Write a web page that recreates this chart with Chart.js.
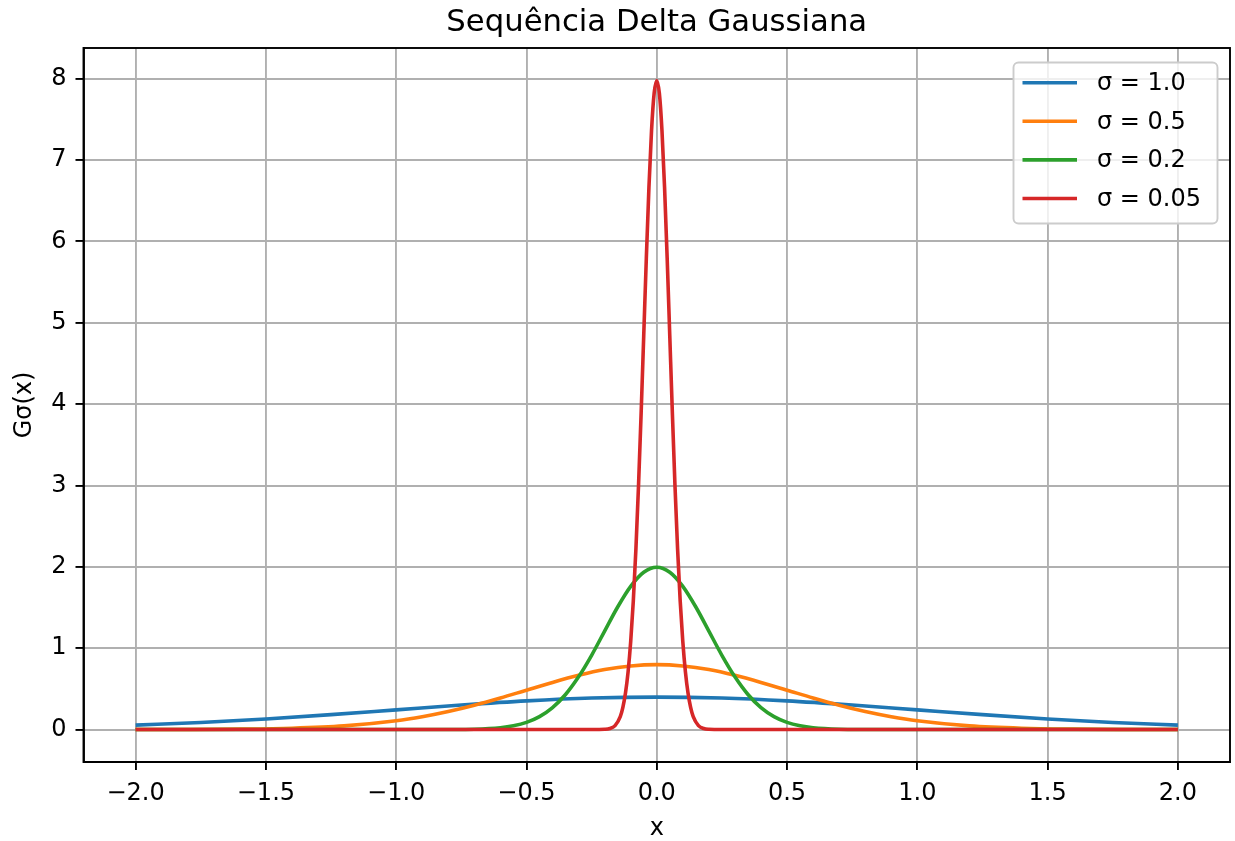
<!DOCTYPE html>
<html>
<head>
<meta charset="utf-8">
<script src="https://cdn.jsdelivr.net/npm/chart.js@4.4.1/dist/chart.umd.min.js"></script>
<style>
  html, body { margin: 0; padding: 0; background: #fff; }
  #c { display: block; }
</style>
</head>
<body>
<canvas id="c" width="1235" height="841"></canvas>
<script>
// ---- data ----
const seriesLabels = ['σ = 1.0', 'σ = 0.5', 'σ = 0.2', 'σ = 0.05'];
const seriesColors = ['#1f77b4', '#ff7f0e', '#2ca02c', '#d62728'];

const xSigma1 = [-2.0,-1.75,-1.5,-1.25,-1.0,-0.75,-0.5,-0.25,0,0.25,0.5,0.75,1.0,1.25,1.5,1.75,2.0];
const ySigma1 = [0.054,0.086,0.130,0.183,0.242,0.301,0.352,0.387,0.399,0.387,0.352,0.301,0.242,0.183,0.130,0.086,0.054];

const xSigma05 = [-2.0,-1.8,-1.6,-1.4,-1.2,-1.0,-0.9,-0.8,-0.7,-0.6,-0.5,-0.4,-0.3,-0.2,-0.1,0,0.1,0.2,0.3,0.4,0.5,0.6,0.7,0.8,0.9,1.0,1.2,1.4,1.6,1.8,2.0];
const ySigma05 = [0.000,0.001,0.005,0.016,0.045,0.108,0.158,0.222,0.299,0.388,0.484,0.579,0.666,0.737,0.782,0.798,0.782,0.737,0.666,0.579,0.484,0.388,0.299,0.222,0.158,0.108,0.045,0.016,0.005,0.001,0.000];

const xSigma02 = [-2.0,-1.0,-0.8,-0.7,-0.6,-0.55,-0.5,-0.45,-0.4,-0.35,-0.3,-0.25,-0.2,-0.15,-0.1,-0.05,0,0.05,0.1,0.15,0.2,0.25,0.3,0.35,0.4,0.45,0.5,0.55,0.6,0.7,0.8,1.0,2.0];
const ySigma02 = [0,0,0.001,0.004,0.022,0.046,0.088,0.159,0.270,0.431,0.648,0.913,1.210,1.506,1.760,1.933,1.995,1.933,1.760,1.506,1.210,0.913,0.648,0.431,0.270,0.159,0.088,0.046,0.022,0.004,0.001,0,0];

const xSigma005 = [-2.0,-0.3,-0.25,-0.2,-0.18,-0.16,-0.14,-0.13,-0.12,-0.11,-0.1,-0.09,-0.08,-0.07,-0.06,-0.05,-0.04,-0.03,-0.02,-0.01,0,0.01,0.02,0.03,0.04,0.05,0.06,0.07,0.08,0.09,0.1,0.11,0.12,0.13,0.14,0.16,0.18,0.2,0.25,0.3,2.0];
const ySigma005 = [0,0,0,0.003,0.012,0.048,0.158,0.272,0.448,0.709,1.080,1.579,2.218,2.995,3.884,4.839,5.794,6.665,7.366,7.821,7.979,7.821,7.366,6.665,5.794,4.839,3.884,2.995,2.218,1.579,1.080,0.709,0.448,0.272,0.158,0.048,0.012,0.003,0,0,0];

const xTicks = [-2.0,-1.5,-1.0,-0.5,0.0,0.5,1.0,1.5,2.0];
const yTicks = [0,1,2,3,4,5,6,7,8];

const titleText = 'Sequência Delta Gaussiana';
const xTitle = 'x';
const yTitle = 'Gσ(x)';

// ---- chart ----
const FONT = "'DejaVu Sans', sans-serif";
const pts = (xs, ys) => xs.map((x, i) => ({ x: x, y: ys[i] }));
const xsAll = [xSigma1, xSigma05, xSigma02, xSigma005];
const ysAll = [ySigma1, ySigma05, ySigma02, ySigma005];

const datasets = seriesLabels.map((lab, i) => ({
  label: lab,
  data: pts(xsAll[i], ysAll[i]),
  borderColor: seriesColors[i],
  backgroundColor: seriesColors[i],
  borderWidth: 3.6,
  pointRadius: 0,
  pointHoverRadius: 0,
  fill: false,
  cubicInterpolationMode: 'monotone',
  order: seriesLabels.length - i
}));

const bgPlugin = {
  id: 'bg',
  beforeDraw(chart) {
    const ctx = chart.ctx;
    ctx.save();
    ctx.fillStyle = '#fff';
    ctx.fillRect(0, 0, chart.width, chart.height);
    ctx.restore();
  }
};

const framePlugin = {
  id: 'frame',
  afterDraw(chart) {
    const { ctx, chartArea: a } = chart;
    ctx.save();
    ctx.strokeStyle = '#000';
    ctx.lineWidth = 1.9;
    ctx.strokeRect(a.left, a.top, a.right - a.left, a.bottom - a.top);
    // legend
    const L = { x: 1013.5, y: 62.5, w: 204, h: 161, r: 5 };
    ctx.beginPath();
    ctx.roundRect(L.x, L.y, L.w, L.h, L.r);
    ctx.fillStyle = 'rgba(255,255,255,0.8)';
    ctx.fill();
    ctx.strokeStyle = '#cccccc';
    ctx.lineWidth = 1.9;
    ctx.stroke();
    ctx.font = '24px ' + FONT;
    ctx.textBaseline = 'middle';
    ctx.textAlign = 'left';
    chart.data.datasets.forEach((ds, i) => {
      const y = 82.7 + i * 38.6;
      ctx.beginPath();
      ctx.moveTo(1022.5, y);
      ctx.lineTo(1077, y);
      ctx.strokeStyle = ds.borderColor;
      ctx.lineWidth = 3.6;
      ctx.stroke();
      ctx.fillStyle = '#000';
      ctx.fillText(ds.label, 1097, y + 1);
    });
    ctx.restore();
  }
};

const fmtX = v => (v < 0 ? '\u2212' : '') + Math.abs(v).toFixed(1);

new Chart(document.getElementById('c'), {
  type: 'line',
  data: { datasets },
  plugins: [bgPlugin, framePlugin],
  options: {
    responsive: false,
    animation: false,
    devicePixelRatio: 1,
    layout: { padding: { left: 0, right: 5, top: 0, bottom: 0 } },
    plugins: {
      legend: { display: false },
      tooltip: { enabled: false },
      title: {
        display: true,
        text: titleText,
        color: '#000',
        fullSize: false,
        font: { family: FONT, size: 30.7, weight: 'normal', lineHeight: 1 },
        padding: { top: 8, bottom: 9.3 }
      }
    },
    scales: {
      x: {
        type: 'linear',
        min: -2.2,
        max: 2.2,
        afterFit(s) { s.height = 79; },
        afterBuildTicks(s) { s.ticks = xTicks.map(v => ({ value: v })); },
        ticks: {
          color: '#000',
          font: { family: FONT, size: 24 },
          padding: 9,
          maxRotation: 0,
          autoSkip: false,
          callback: v => fmtX(v)
        },
        grid: { color: '#b0b0b0', lineWidth: 1.9, tickColor: '#000', tickLength: 8, tickWidth: 1.9 },
        border: { display: true, color: '#000', width: 1.9 },
        title: {
          display: true, text: xTitle, color: '#000',
          font: { family: FONT, size: 24, lineHeight: 1 },
          padding: { top: 0, bottom: 0 }
        }
      },
      y: {
        type: 'linear',
        min: -0.399,
        max: 8.378,
        afterFit(s) { s.width = 83.5; },
        afterBuildTicks(s) { s.ticks = yTicks.map(v => ({ value: v })); },
        ticks: {
          color: '#000',
          font: { family: FONT, size: 24 },
          padding: 9,
          autoSkip: false,
          callback: v => String(v)
        },
        grid: { color: '#b0b0b0', lineWidth: 1.9, tickColor: '#000', tickLength: 8, tickWidth: 1.9 },
        border: { display: true, color: '#000', width: 1.9 },
        title: {
          display: true, text: yTitle, color: '#000',
          font: { family: FONT, size: 24, lineHeight: 1 },
          padding: { top: 12.5, bottom: 0 }
        }
      }
    }
  }
});
</script>
</body>
</html>
